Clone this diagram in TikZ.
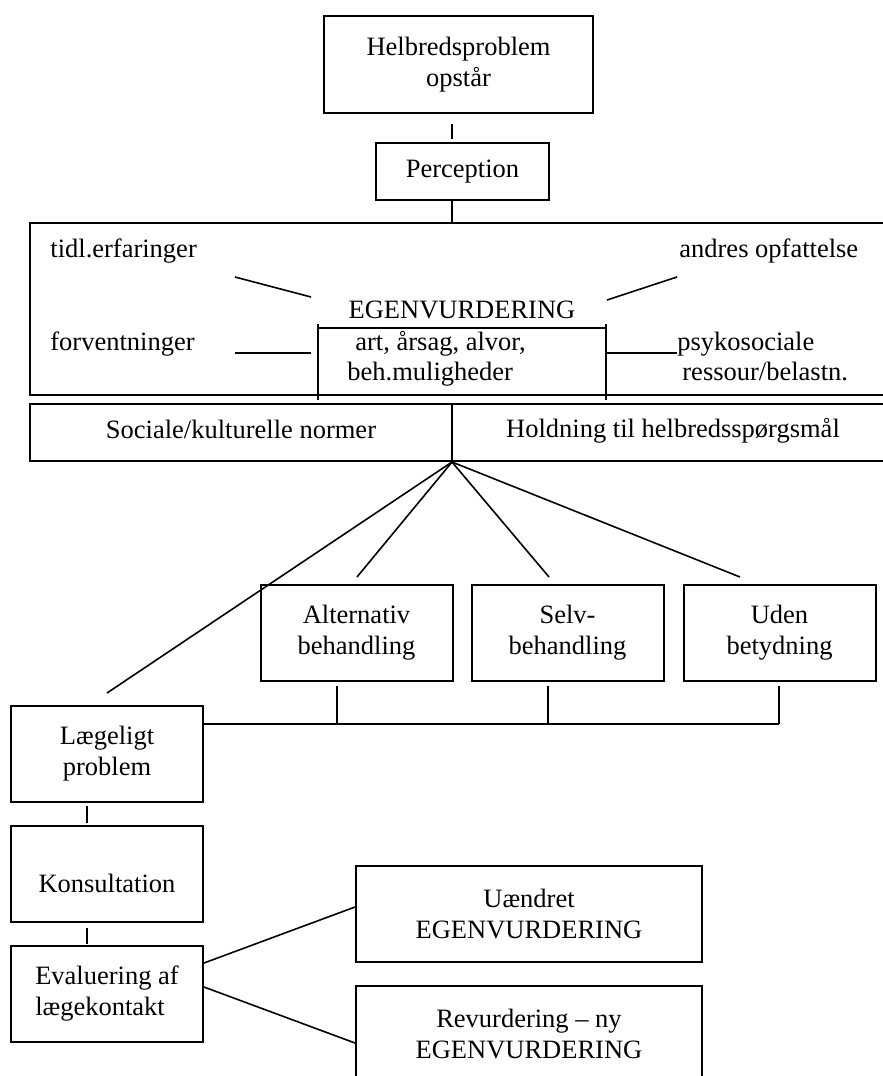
\documentclass[tikz,border=0pt]{standalone}
\usepackage{fontspec}
\setmainfont{Liberation Serif}

\begin{document}
\begin{tikzpicture}[x=0.5pt,y=-0.5pt,font=\fontsize{13.25}{15.5}\selectfont]
      \tikzstyle{boks}=[rectangle,draw=black,line width=1pt,align=center,inner sep=2pt]
      \tikzstyle{lille}=[boks,minimum width=96pt,minimum height=48pt]
      \tikzstyle{bred}=[boks,minimum width=173pt,minimum height=48pt]
      \tikzstyle{tekst}=[inner sep=0pt,anchor=base west]
      \tikzstyle{streg}=[line width=0.8pt]

      \useasboundingbox (0,0) rectangle (883,1076);

      \begin{scope}
        \node[boks,minimum width=134.5pt,minimum height=48.5pt](helbred) at (458.5,64.5){Helbredsproblem\\opstår};
        \node[boks,minimum width=86.5pt,minimum height=28.5pt](percep) at (462.5,171.5){Perception};

        \node[boks,minimum width=430pt,minimum height=86pt](ramme) at (460,309){};
        \node[boks,minimum width=430pt,minimum height=28.5pt](normer) at (460,432.5){};
        \coordinate (fan) at (452,462);

        \path[streg]
        (helbred.south -| fan) edge[shorten <=5pt,shorten >=1.5pt] (percep.north -| fan)
        (percep.south -| fan) edge (ramme.north -| fan)
        (normer.north -| fan) edge (fan);
      \end{scope}

      \begin{scope}
        \node[tekst](tidl) at (50,257){tidl.erfaringer};
        \node[tekst](andres) at (679,257){andres opfattelse};
        \node[tekst](forvent) at (50,350){forventninger};
        \node[tekst](psyko) at (677,350){psykosociale};
        \node[tekst](ressour) at (682,380){ressour/belastn.};
        \node[tekst,anchor=base](egentitel) at (462,318){EGENVURDERING};
        \node[tekst](art) at (355,350){art, årsag, alvor,};
        \node[tekst](beh) at (347,380){beh.muligheder};
        \node[tekst,anchor=base](sociale) at (241,438){Sociale/kulturelle normer};
        \node[tekst,anchor=base](holdning) at (673,437){Holdning til helbredsspørgsmål};

        \coordinate (ivo) at (318,324);
        \coordinate (ivn) at (318,400);
        \coordinate (iho) at (606,324);
        \coordinate (ihn) at (606,400);
        \coordinate (d1a) at (235,277);
        \coordinate (d1b) at (311,297);
        \coordinate (d2a) at (607,300);
        \coordinate (d2b) at (677,277);
        \coordinate (h1a) at (235,353);
        \coordinate (h1b) at (311,353);
        \coordinate (h2a) at (607,353);
        \coordinate (h2b) at (677,353);

        \path[streg]
        (ivo) edge (ivn)
        (iho) edge (ihn)
        ([yshift=-2pt]ivo) edge ([yshift=-2pt]iho)
        (d1a) edge (d1b)
        (d2a) edge (d2b)
        (h1a) edge (h1b)
        (h2a) edge (h2b);
      \end{scope}

      \begin{scope}
        \node[lille](alt) at (356.5,633){Alternativ\\behandling};
        \node[lille](selv) at (567.5,633){Selv-\\behandling};
        \node[lille](uden) at (779.5,633){Uden\\betydning};

        \node[lille](laege) at (107,754){Lægeligt\\problem};
        \node[lille,text height=19pt](konsul) at (107,874){Konsultation};
        \node[lille,align=left](evalu) at (107,994){Evaluering af\\lægekontakt};

        \node[bred](uaen) at (529,914){Uændret\\EGENVURDERING};
        \node[bred](revu) at (529,1034){Revurdering -- ny\\EGENVURDERING};

        \coordinate (a1) at (357,577);
        \coordinate (s1) at (549,577);
        \coordinate (u1) at (740,577);
        \coordinate (l1) at (107,693);
        \coordinate (t1) at (337,724);
        \coordinate (t2) at (548,724);
        \coordinate (t3) at (779,724);

        \path[streg]
        (fan) edge (a1)
        (fan) edge (s1)
        (fan) edge (u1)
        (fan) edge (l1)
        (alt.south -| t1) edge[shorten <=2pt] (t1)
        (selv.south -| t2) edge[shorten <=2pt] (t2)
        (uden.south -| t3) edge[shorten <=2pt] (t3)
        ([yshift=15pt]laege.east) edge (t3)
        ([xshift=-10pt]laege.south) edge[shorten <=1.5pt,shorten >=1pt] ([xshift=-10pt]konsul.north)
        ([xshift=-10pt]konsul.south) edge[shorten <=2.5pt,shorten >=0.5pt] ([xshift=-10pt]evalu.north)
        ([yshift=15.5pt]evalu.east) edge ([yshift=3.5pt]uaen.west)
        ([yshift=3.5pt]evalu.east) edge ([yshift=-4.5pt]revu.west);
      \end{scope}
    \end{tikzpicture}
\end{document}
